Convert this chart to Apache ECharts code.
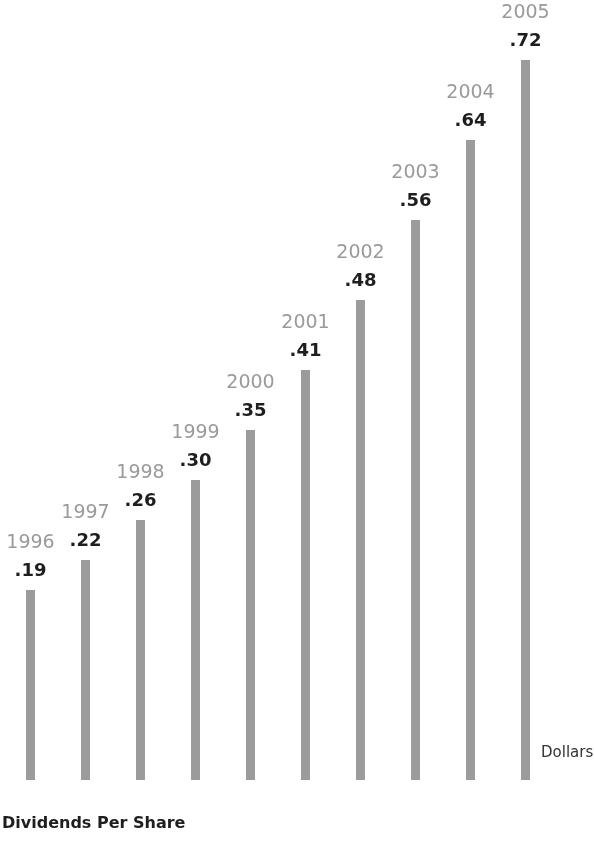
<!DOCTYPE html>
<html><head><meta charset="utf-8">
<script src="https://cdn.jsdelivr.net/npm/echarts@6/dist/echarts.min.js"></script>
<style>html,body{margin:0;padding:0;background:#fff}#c{width:594px;height:864px}</style>
</head><body><div id="c"></div>
<script>
const years = ['1996','1997','1998','1999','2000','2001','2002','2003','2004','2005'];
const dividends = [0.19,0.22,0.26,0.30,0.35,0.41,0.48,0.56,0.64,0.72];
const valueLabels = ['.19','.22','.26','.30','.35','.41','.48','.56','.64','.72'];

const chart = echarts.init(document.getElementById('c'));
chart.setOption({
  animation: false,
  grid: {left: 3, right: 41, top: 0, bottom: 84},
  xAxis: {type: 'category', data: years, axisLine: {show: false}, axisTick: {show: false}, axisLabel: {show: false}},
  yAxis: {type: 'value', min: 0, max: 0.78, show: false, splitLine: {show: false}},
  series: [{
    type: 'bar',
    data: dividends,
    barWidth: 9,
    itemStyle: {color: '#9b9b9b'},
    label: {
      show: true,
      position: 'top',
      distance: 5,
      formatter: p => '{y|' + years[p.dataIndex] + '}\n{v|' + valueLabels[p.dataIndex] + '}',
      rich: {
        y: {fontFamily: 'DejaVu Sans', fontSize: 19, color: '#9a9a9a', lineHeight: 28, align: 'center'},
        v: {fontFamily: 'DejaVu Sans', fontSize: 18, fontWeight: 'bold', color: '#1e1e1e', lineHeight: 28, align: 'center'}
      }
    }
  }],
  graphic: [
    {type: 'text', left: 541, top: 746, style: {text: 'Dollars', font: '15px "DejaVu Sans"', fill: '#333'}},
    {type: 'text', left: 2, top: 816, style: {text: 'Dividends Per Share', font: 'bold 16px "DejaVu Sans"', fill: '#1e1e1e'}}
  ]
});
</script></body></html>
